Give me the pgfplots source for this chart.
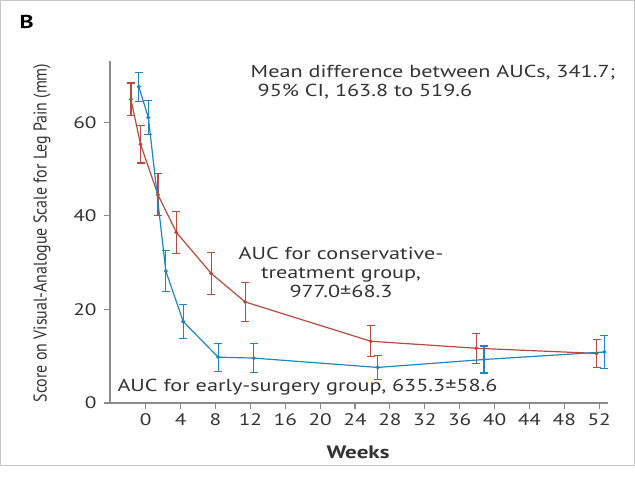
\documentclass[border=0pt]{standalone}
\usepackage{pgfplots}
\pgfplotsset{compat=1.18}
\usepackage{fontspec}
\setmainfont{PT Sans}[FakeStretch=1.28]
\newfontfamily\labelfont{PT Sans}[FakeStretch=0.86]
\definecolor{redline}{HTML}{B84A3E}
\definecolor{blueline}{HTML}{1D87C6}
\definecolor{axgray}{HTML}{8C8C8C}
\definecolor{txt}{HTML}{333333}

\begin{document}
\begin{tikzpicture}
\useasboundingbox (0,0) rectangle (476.25pt,357pt);
\draw[gray!45,line width=0.8pt] (0.6pt,8pt) rectangle (475.6pt,356.4pt);
\begin{axis}[at={(82.5pt,54.75pt)},anchor=south west,
  scale only axis,width=373.4pt,height=256.2pt,
  xmin=-4.1,xmax=53,ymin=0,ymax=73,
  axis lines*=left,axis line style={axgray,line width=0.8pt},
  xtick={0,4,...,52},ytick={0,20,40,60},
  tick align=outside,major tick length=4.5pt,tick style={axgray,line width=0.8pt},
  ticklabel style={font=\fontsize{12.5}{14}\selectfont,text=txt},
  yticklabel style={xshift=-2pt},
  /pgf/number format/assume math mode=true,
  clip=false]
\addplot[redline,line width=0.9pt,mark=*,mark size=1pt,
  error bars/.cd,y dir=both,y explicit,
  error bar style={line width=0.9pt},error mark options={rotate=90,mark size=3pt,line width=0.9pt}]
  coordinates {
  (-1.7,64.9) +- (0,3.5)
  (-0.6,55.3) +- (0,4.0)
  (1.4,44.5) +- (0,4.5)
  (3.5,36.5) +- (0,4.5)
  (7.5,27.7) +- (0,4.5)
  (11.4,21.6) +- (0,4.2)
  (25.8,13.2) +- (0,3.3)
  (37.9,11.7) +- (0,3.2)
  (51.7,10.6) +- (0,3.0)
  };
\addplot[blueline,line width=0.9pt,mark=*,mark size=1pt,
  error bars/.cd,y dir=both,y explicit,
  error bar style={line width=0.9pt},error mark options={rotate=90,mark size=3pt,line width=0.9pt}]
  coordinates {
  (-0.8,67.6) +- (0,3.1)
  (0.3,61.0) +- (0,3.7)
  (2.3,28.2) +- (0,4.4)
  (4.3,17.4) +- (0,3.7)
  (8.3,9.8) +- (0,3.0)
  (12.4,9.6) +- (0,3.1)
  (26.6,7.6) +- (0,2.5)
  (38.8,9.3) +- (0,2.9)
  (52.6,10.9) +- (0,3.6)
  };
\end{axis}
\begin{scope}[x=0.75pt,y=-0.75pt,shift={(0pt,357pt)},text=txt]
\node[anchor=west,text=black,font=\bfseries\fontsize{14}{15}\selectfont] at (15,22) {B};
\node[anchor=west,font=\fontsize{13}{14}\selectfont] at (246,73) {Mean difference between AUCs, 341.7;};
\node[anchor=west,font=\fontsize{13}{14}\selectfont] at (253,92) {95\% CI, 163.8 to 519.6};
\node[align=center,font=\fontsize{13}{14.3}\selectfont] at (341,272) {AUC for conservative-\\treatment group,\\977.0±68.3};
\node[font=\fontsize{13}{14}\selectfont] at (307.5,387) {AUC for early-surgery group, 635.3±58.6};
\node[font=\bfseries\fontsize{13.5}{14}\selectfont] at (358,452) {Weeks};
\node[rotate=90,font=\labelfont\fontsize{13.9}{15}\selectfont] at (42,233) {Score on Visual-Analogue Scale for Leg Pain (mm)};
\end{scope}
\end{tikzpicture}
\end{document}
